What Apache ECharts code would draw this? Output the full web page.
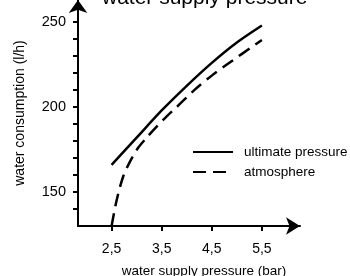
<!DOCTYPE html>
<html>
<head>
<meta charset="utf-8">
<script src="https://cdn.jsdelivr.net/npm/echarts@6/dist/echarts.min.js"></script>
<style>
    html, body { margin: 0; padding: 0; background: #fff; }
    #chart { width: 350px; height: 276px; }
</style>
</head>
<body>
<div id="chart"></div>
<script>
// pressure (bar) / consumption (l/h)
var ultimateX = [2.5, 3.0, 3.5, 4.0, 4.5, 5.0, 5.5];
var ultimateY = [166, 182, 198, 212.5, 226, 238, 248];
var atmosX = [2.5, 2.6, 2.73, 2.87, 3.03, 3.2, 3.4, 3.6, 3.8, 4.15, 4.5, 4.8, 5.5];
var atmosY = [130, 145, 159, 168, 176, 182, 188.5, 194.5, 200, 210, 218.5, 225, 239.5];
var xTicks = [2.5, 3.5, 4.5, 5.5];
var yLabels = [150, 200, 250];
var yTicks = [140, 150, 160, 170, 180, 190, 200, 210, 220, 230, 240, 250];

function pairs(xs, ys) {
    return xs.map(function (x, i) { return [x, ys[i]]; });
}

var font = "Liberation Sans";
var chart = echarts.init(document.getElementById("chart"));
chart.setOption({
    animation: false,
    textStyle: { fontFamily: font, color: "#000" },
    title: {
        text: "water supply pressure",
        left: 97,
        top: -17,
        textStyle: { fontFamily: font, fontSize: 21, fontWeight: "normal", color: "#000" }
    },
    grid: { left: 78, right: 50, top: 0, bottom: 50, outerBoundsMode: "none", containLabel: false },
    legend: {
        orient: "vertical",
        left: 187,
        top: 140,
        itemWidth: 40,
        itemHeight: 14,
        itemGap: 6,
        itemStyle: { opacity: 0 },
        textStyle: { fontFamily: font, fontSize: 13.5, color: "#000", padding: [0, 0, 0, 6] },
        data: ["ultimate pressure", "atmosphere"]
    },
    xAxis: {
        type: "value",
        min: 1.83,
        max: 6.26,
        name: "water supply pressure (bar)",
        nameLocation: "middle",
        nameGap: 38,
        nameTextStyle: { fontSize: 13.5, color: "#000", padding: [0, 0, 0, 30] },
        splitLine: { show: false },
        axisLine: { lineStyle: { color: "#000", width: 2 }, symbol: ["none", "arrow"], symbolSize: [13, 14] },
        axisTick: { length: 5, lineStyle: { color: "#000", width: 2 }, customValues: xTicks },
        axisLabel: {
            fontSize: 14, color: "#000", margin: 16, customValues: xTicks,
            formatter: function (v) { return String(v).replace(".", ","); }
        }
    },
    yAxis: {
        type: "value",
        min: 130,
        max: 263,
        name: "water consumption (l/h)",
        nameLocation: "middle",
        nameGap: 51,
        nameTextStyle: { fontSize: 14, color: "#000" },
        splitLine: { show: false },
        axisLine: { lineStyle: { color: "#000", width: 2 }, symbol: ["none", "arrow"], symbolSize: [14, 13] },
        axisTick: { length: 5, lineStyle: { color: "#000", width: 2 }, customValues: yTicks },
        axisLabel: { fontSize: 14.5, color: "#000", margin: 12, customValues: yLabels }
    },
    series: [
        {
            name: "ultimate pressure",
            type: "line",
            smooth: 0.3,
            symbol: "none",
            data: pairs(ultimateX, ultimateY),
            lineStyle: { color: "#000", width: 2.5 },
            itemStyle: { color: "#000" }
        },
        {
            name: "atmosphere",
            type: "line",
            smooth: 0.3,
            symbol: "none",
            data: pairs(atmosX, atmosY),
            lineStyle: { color: "#000", width: 2.5, type: [13, 7] },
            itemStyle: { color: "#000" }
        }
    ]
});
</script>
</body>
</html>
